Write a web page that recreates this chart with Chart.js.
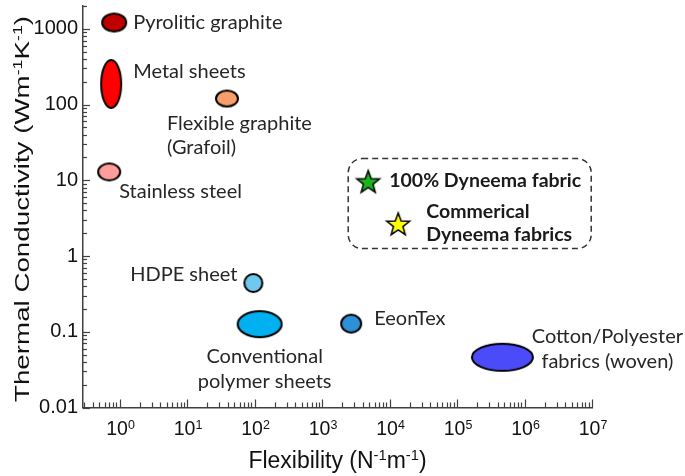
<!DOCTYPE html>
<html lang="en">
<head>
    <meta charset="UTF-8">
    <title>Thermal Conductivity vs Flexibility</title>
    <script src="https://cdn.jsdelivr.net/npm/chart.js"></script>
    <style>
        body {
            margin: 0;
            background: #ffffff;
        }
        canvas {
            display: block;
        }
    </style>
</head>
<body>
    <canvas id="mapChart" width="685" height="476"></canvas>

    <script>
        // materials (label lines) with flexibility (N^-1 m^-1) and thermal conductivity (W m^-1 K^-1)
        const materials = [
            ['Pyrolitic graphite'],
            ['Metal sheets'],
            ['Flexible graphite', '(Grafoil)'],
            ['Stainless steel'],
            ['HDPE sheet'],
            ['Conventional', 'polymer sheets'],
            ['EeonTex'],
            ['Cotton/Polyester', 'fabrics (woven)']
        ];
        const flexibility = [0.83, 0.75, 39, 0.70, 96, 119, 2700, 470000];
        const conductivity = [1210, 187, 120, 12.9, 0.44, 0.126, 0.128, 0.046];

        const dyneemaNames = [['100% Dyneema fabric'], ['Commerical', 'Dyneema fabrics']];
        const dyneemaFlex = [4830, 13460];
        const dyneemaK = [9.6, 2.65];

        const xTickPowers = [0, 1, 2, 3, 4, 5, 6, 7];
        const yTickLabels = ['0.01', '0.1', '1', '10', '100', '1000'];

        // look of each marker: fill colour, ellipse width / height in px
        const ellipseStyle = [
            { fill: '#C00000', w: 24, h: 18 },
            { fill: '#FF0000', w: 20, h: 48 },
            { fill: '#F79E6A', w: 22, h: 16 },
            { fill: '#FF9C9C', w: 22, h: 17 },
            { fill: '#6FC8EE', w: 18, h: 18 },
            { fill: '#00B0F0', w: 44, h: 26 },
            { fill: '#2E90D8', w: 20, h: 18 },
            { fill: '#4B4BFA', w: 61, h: 27 }
        ];
        const starColors = ['#1DB31D', '#FFFF00'];

        // where each label sits relative to its marker (dx, dy of first baseline)
        const labelPos = [
            { dx: 19, dy: 6, align: 'left' },
            { dx: 22, dy: -6, align: 'left' },
            { dx: -60, dy: 31, align: 'left' },
            { dx: 10, dy: 26, align: 'left' },
            { dx: -16, dy: -2, align: 'right' },
            { dx: 5, dy: 39, align: 'center' },
            { dx: 23, dy: 1, align: 'left' },
            { dx: 105, dy: -14, align: 'center' }
        ];
        const legendPos = [
            { dx: 21, dy: 5 },
            { dx: 28, dy: -6 }
        ];

        const labelFont = '20px Lato';
        const labelBold = 'bold 19.5px Lato';
        const axisFamily = '"Liberation Sans", Arial, sans-serif';
        const lineGap = 24.5;

        function ellipseImage(s) {
            const c = document.createElement('canvas');
            c.width = s.w + 4;
            c.height = s.h + 4;
            const g = c.getContext('2d');
            g.beginPath();
            g.ellipse(c.width / 2, c.height / 2, s.w / 2, s.h / 2, 0, 0, Math.PI * 2);
            g.fillStyle = s.fill;
            g.fill();
            g.lineWidth = 2;
            g.strokeStyle = '#000';
            g.stroke();
            return c;
        }

        function starImage(color) {
            const R = 12, r = 5;
            const c = document.createElement('canvas');
            c.width = 28;
            c.height = 28;
            const g = c.getContext('2d');
            const cx = 14, cy = 15;
            g.beginPath();
            for (let i = 0; i < 10; i++) {
                const rad = i % 2 === 0 ? R : r;
                const a = -Math.PI / 2 + i * Math.PI / 5;
                const px = cx + rad * Math.cos(a);
                const py = cy + rad * Math.sin(a);
                if (i === 0) g.moveTo(px, py); else g.lineTo(px, py);
            }
            g.closePath();
            g.fillStyle = color;
            g.fill();
            g.lineWidth = 1.5;
            g.strokeStyle = '#000';
            g.stroke();
            return c;
        }

        function logTicks(min, max) {
            const ticks = [];
            for (let e = Math.floor(Math.log10(min)); e <= Math.ceil(Math.log10(max)); e++) {
                for (let m = 1; m <= 9; m++) {
                    const v = m * Math.pow(10, e);
                    if (v >= min * 0.999 && v <= max * 1.001) ticks.push({ value: v, major: m === 1 });
                }
            }
            return ticks;
        }

        // text with superscript parts: [[text, isSup], ...], centred on x
        function richWidth(ctx, parts, size) {
            let w = 0;
            parts.forEach(([t, sup]) => {
                ctx.font = (sup ? size * 0.64 : size) + 'px ' + axisFamily;
                w += ctx.measureText(t).width;
            });
            return w;
        }
        function drawRich(ctx, parts, x, y, size) {
            let cx = x - richWidth(ctx, parts, size) / 2;
            ctx.textAlign = 'left';
            ctx.textBaseline = 'alphabetic';
            parts.forEach(([t, sup]) => {
                ctx.font = (sup ? size * 0.64 : size) + 'px ' + axisFamily;
                ctx.fillText(t, cx, sup ? y - size * 0.33 : y);
                cx += ctx.measureText(t).width;
            });
        }

        const points = flexibility.map((f, i) => ({ x: f, y: conductivity[i] }));
        const dyneemaPoints = dyneemaFlex.map((f, i) => ({ x: f, y: dyneemaK[i] }));

        const decorations = {
            id: 'decorations',
            afterDraw(chart) {
                const ctx = chart.ctx;
                const xs = chart.scales.x;
                const ys = chart.scales.y;
                const area = chart.chartArea;
                ctx.save();

                // inward tick marks
                ctx.strokeStyle = '#404040';
                ctx.lineWidth = 1.2;
                ys.ticks.forEach(t => {
                    const py = Math.round(ys.getPixelForValue(t.value)) + 0.5;
                    ctx.beginPath();
                    ctx.moveTo(area.left, py);
                    ctx.lineTo(area.left + (t.major ? 7 : 4), py);
                    ctx.stroke();
                });
                xs.ticks.forEach(t => {
                    const px = Math.round(xs.getPixelForValue(t.value)) + 0.5;
                    ctx.beginPath();
                    ctx.moveTo(px, area.bottom);
                    ctx.lineTo(px, area.bottom - (t.major ? 8 : 5));
                    ctx.stroke();
                });

                // x tick labels 10^n
                ctx.fillStyle = '#111';
                xTickPowers.forEach(p => {
                    const px = xs.getPixelForValue(Math.pow(10, p));
                    drawRich(ctx, [['10', false], [String(p), true]], px + 1, area.bottom + 27.5, 19.5);
                });

                // axis titles
                drawRich(ctx, [['Flexibility (N', false], ['-1', true], ['m', false], ['-1', true], [')', false]],
                    (area.left + area.right) / 2, 468, 23);
                const yTitle = [['Thermal Conductivity (Wm', false], ['-1', true], ['K', false], ['-1', true], [')', false]];
                ctx.save();
                ctx.translate(29, 209);
                ctx.rotate(-Math.PI / 2);
                ctx.scale(386 / richWidth(ctx, yTitle, 21), 1);
                drawRich(ctx, yTitle, 0, 0, 21);
                ctx.restore();

                // material labels
                ctx.fillStyle = '#262626';
                ctx.font = labelFont;
                ctx.textBaseline = 'alphabetic';
                const meta = chart.getDatasetMeta(0);
                materials.forEach((lines, i) => {
                    const el = meta.data[i];
                    const pos = labelPos[i];
                    ctx.textAlign = pos.align;
                    lines.forEach((line, k) => {
                        ctx.fillText(line, el.x + pos.dx, el.y + pos.dy + k * lineGap);
                    });
                });

                // dashed legend box around the Dyneema stars
                const stars = chart.getDatasetMeta(1).data;
                const bx = stars[0].x - 20, by = stars[0].y - 23;
                ctx.setLineDash([6, 4]);
                ctx.lineWidth = 1.5;
                ctx.strokeStyle = '#333';
                ctx.beginPath();
                ctx.roundRect(bx, by, 243, 90, 14);
                ctx.stroke();
                ctx.setLineDash([]);

                ctx.fillStyle = '#1a1a1a';
                ctx.font = labelBold;
                ctx.textAlign = 'left';
                dyneemaNames.forEach((lines, i) => {
                    const el = stars[i];
                    lines.forEach((line, k) => {
                        ctx.fillText(line, el.x + legendPos[i].dx, el.y + legendPos[i].dy + k * 23);
                    });
                });
                ctx.restore();
            }
        };

        const ctx = document.getElementById('mapChart').getContext('2d');
        new Chart(ctx, {
            type: 'scatter',
            data: {
                datasets: [{
                    label: 'Materials',
                    data: points,
                    pointStyle: ellipseStyle.map(ellipseImage),
                    pointRadius: 5
                }, {
                    label: 'Dyneema',
                    data: dyneemaPoints,
                    pointStyle: starColors.map(starImage),
                    pointRadius: 5
                }]
            },
            options: {
                responsive: false,
                animation: false,
                events: [],
                layout: { padding: { top: 3, right: 93, left: 0, bottom: 0 } },
                plugins: {
                    legend: { display: false },
                    tooltip: { enabled: false }
                },
                scales: {
                    x: {
                        type: 'logarithmic',
                        min: 0.287,
                        max: 1e7,
                        grid: { display: false, drawTicks: false },
                        border: { display: true, color: '#404040', width: 1.5 },
                        ticks: { display: false },
                        afterBuildTicks(scale) { scale.ticks = logTicks(scale.min, scale.max); },
                        afterFit(scale) {
                            scale.height = 68.5;
                            scale.paddingLeft = 0;
                            scale.paddingRight = 0;
                        }
                    },
                    y: {
                        type: 'logarithmic',
                        min: 0.01,
                        max: 2000,
                        grid: { display: false, drawTicks: false },
                        border: { display: true, color: '#404040', width: 1.5 },
                        ticks: {
                            autoSkip: false,
                            padding: 5,
                            color: '#111',
                            font: { family: axisFamily, size: 20 },
                            callback(v) {
                                const p = Math.log10(v);
                                if (Math.abs(p - Math.round(p)) > 1e-6) return '';
                                const idx = Math.round(p) + 2;
                                return yTickLabels[idx] || '';
                            }
                        },
                        afterBuildTicks(scale) { scale.ticks = logTicks(scale.min, scale.max); },
                        afterFit(scale) {
                            scale.width = 83;
                            scale.paddingTop = 0;
                            scale.paddingBottom = 0;
                        }
                    }
                }
            },
            plugins: [decorations]
        });
    </script>
</body>
</html>
